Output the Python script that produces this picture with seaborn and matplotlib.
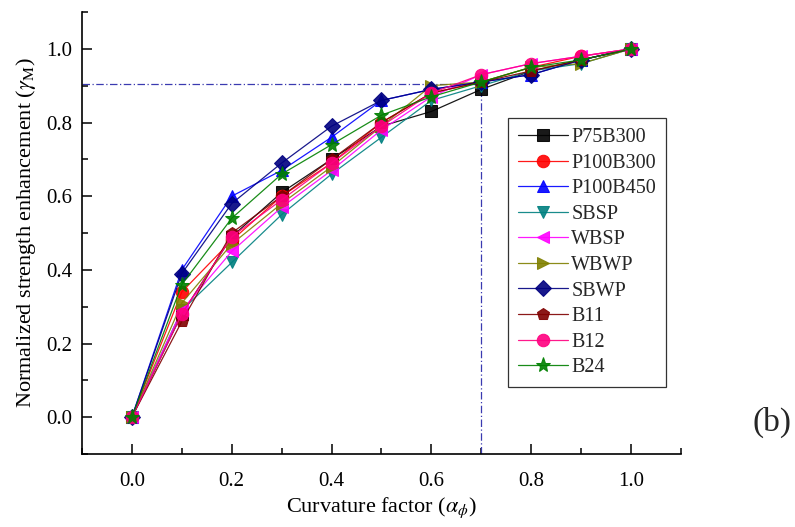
import numpy as np
import pandas as pd
import matplotlib
matplotlib.use("Agg")
import matplotlib.pyplot as plt
from matplotlib.ticker import MultipleLocator
import seaborn as sns

# Curvature factor values
alpha = [0.0, 0.1, 0.2, 0.3, 0.4, 0.5, 0.6, 0.7, 0.8, 0.9, 1.0]

# Normalized strength enhancement per specimen series
P75B300  = [0.0, 0.28, 0.49, 0.61, 0.70, 0.79, 0.83, 0.89, 0.94, 0.97, 1.0]
P100B300 = [0.0, 0.34, 0.48, 0.60, 0.69, 0.80, 0.88, 0.91, 0.95, 0.98, 1.0]
P100B450 = [0.0, 0.40, 0.60, 0.67, 0.76, 0.86, 0.89, 0.91, 0.93, 0.97, 1.0]
SBSP     = [0.0, 0.29, 0.42, 0.55, 0.66, 0.76, 0.86, 0.90, 0.94, 0.96, 1.0]
WBSP     = [0.0, 0.29, 0.45, 0.57, 0.67, 0.78, 0.87, 0.93, 0.96, 0.98, 1.0]
WBWP     = [0.0, 0.31, 0.47, 0.58, 0.68, 0.79, 0.90, 0.91, 0.95, 0.96, 1.0]
SBWP     = [0.0, 0.39, 0.58, 0.69, 0.79, 0.86, 0.89, 0.91, 0.93, 0.97, 1.0]
B11      = [0.0, 0.26, 0.50, 0.60, 0.70, 0.80, 0.88, 0.91, 0.94, 0.97, 1.0]
B12      = [0.0, 0.28, 0.49, 0.59, 0.69, 0.79, 0.88, 0.93, 0.96, 0.98, 1.0]
B24      = [0.0, 0.36, 0.54, 0.66, 0.74, 0.82, 0.87, 0.91, 0.95, 0.97, 1.0]

names = ["P75B300", "P100B300", "P100B450", "SBSP", "WBSP",
         "WBWP", "SBWP", "B11", "B12", "B24"]
series = [P75B300, P100B300, P100B450, SBSP, WBSP, WBWP, SBWP, B11, B12, B24]

colors = ["#000000", "#ff0000", "#0000ff", "#008080", "#ff00ff",
          "#808000", "#000080", "#800000", "#ff0080", "#008000"]
marker_list = ["s", "o", "^", "v", "<", ">", "D", "p", "o", "*"]
msizes = [8, 9, 9, 9, 9, 9, 8, 9, 9, 11]

# Reference point of the design curve
ref_x, ref_y = 0.7, 0.905

df = pd.concat(
    [pd.DataFrame({"alpha": alpha, "gamma": v, "Specimen": n})
     for n, v in zip(names, series)],
    ignore_index=True,
)

sns.set_theme(style="ticks")
plt.rcParams["font.family"] = ["Liberation Serif", "DejaVu Serif"]
plt.rcParams["mathtext.fontset"] = "stix"

fig = plt.figure(figsize=(7.95, 5.27), dpi=100)
ax = fig.add_axes([0.1031, 0.1385, 0.7535, 0.8387])

# guide lines to the reference point
ax.plot([-0.1, ref_x], [ref_y, ref_y], color="#3a3ab0", lw=0.9,
        ls=(0, (6, 2, 1, 2)), zorder=1)
ax.plot([ref_x, ref_x], [-0.1, ref_y], color="#3a3ab0", lw=0.9,
        ls=(0, (6, 2, 1, 2)), zorder=1)

for n, c, m, s in zip(names, colors, marker_list, msizes):
    sub = df[df["Specimen"] == n]
    sns.lineplot(data=sub, x="alpha", y="gamma", ax=ax, color=c,
                 marker=m, markersize=s, markeredgecolor=c,
                 linewidth=0.9, label=n, zorder=3)

for line in ax.lines[2:]:
    line.set_alpha(0.9)

ax.set_xlim(-0.1, 1.1)
ax.set_ylim(-0.1, 1.1)
ax.set_xticks([0.0, 0.2, 0.4, 0.6, 0.8, 1.0])
ax.set_yticks([0.0, 0.2, 0.4, 0.6, 0.8, 1.0])
ax.xaxis.set_minor_locator(MultipleLocator(0.1))
ax.yaxis.set_minor_locator(MultipleLocator(0.1))
ax.set_xticklabels(["0.0", "0.2", "0.4", "0.6", "0.8", "1.0"])
ax.set_yticklabels(["0.0", "0.2", "0.4", "0.6", "0.8", "1.0"])
ax.tick_params(axis="both", which="major", direction="in", length=7,
               width=1.1, labelsize=15, color="black", labelcolor="black")
ax.tick_params(axis="x", which="major", pad=13)
ax.tick_params(axis="y", which="major", pad=7)
ax.tick_params(axis="both", which="minor", direction="in", length=4,
               width=1.1, color="black")

for side in ["top", "right"]:
    ax.spines[side].set_visible(False)
for side in ["left", "bottom"]:
    ax.spines[side].set_color("black")
    ax.spines[side].set_linewidth(1.2)

ax.set_xlabel(r"Curvature factor ($\alpha_{\phi}$)", fontsize=16, color="black",
              labelpad=3)
ax.set_ylabel(r"Normalized strength enhancement ($\gamma_{\rm M}$)", fontsize=16,
              color="black", labelpad=6)

leg = ax.legend(loc="upper left", bbox_to_anchor=(0.711, 0.760),
                frameon=True, fancybox=False, fontsize=14.5,
                handlelength=2.5, handletextpad=0.15, labelspacing=0.32,
                borderpad=0.5, borderaxespad=0)
leg.get_frame().set_edgecolor("black")
leg.get_frame().set_linewidth(0.9)

fig.text(0.946, 0.199, "(b)", fontsize=24, ha="left", va="center")

fig.savefig("out.png", dpi=100)
